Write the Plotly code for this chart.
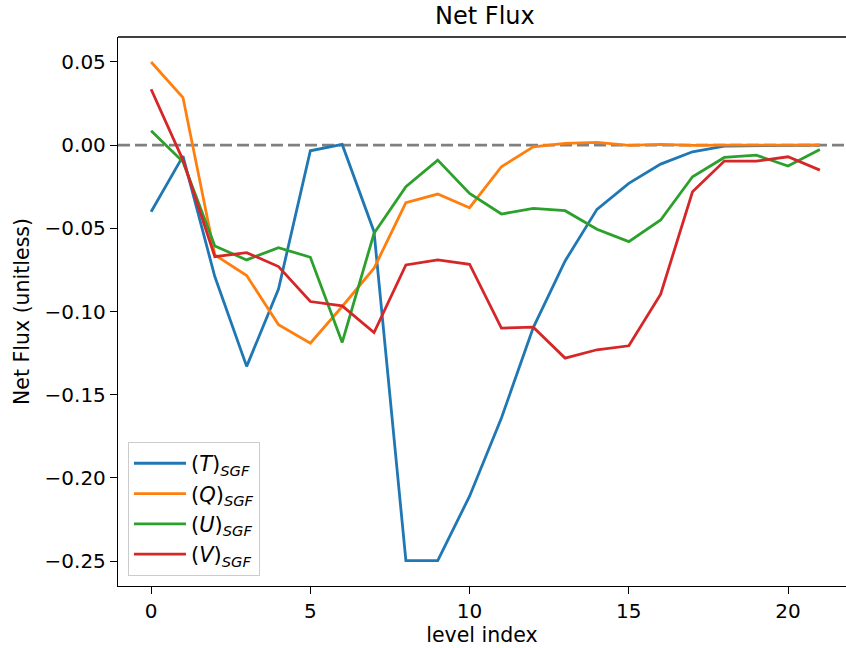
import plotly.graph_objects as go

level = list(range(22))
T_sgf = [-0.040, -0.0066, -0.079, -0.133, -0.0865, -0.0034, 0.0004, -0.052, -0.2497, -0.2497,
         -0.211, -0.164, -0.1097, -0.0696, -0.0386, -0.023, -0.0114, -0.004, -0.0006, -0.0002,
         -0.0001, 0.0]
Q_sgf = [0.050, 0.0286, -0.066, -0.0784, -0.108, -0.119, -0.097, -0.074, -0.0346, -0.0294,
         -0.0376, -0.013, -0.001, 0.001, 0.0016, -0.0002, 0.0004, -0.0001, 0.0, 0.0, 0.0, 0.0]
U_sgf = [0.0086, -0.010, -0.0606, -0.069, -0.0616, -0.0674, -0.1186, -0.053, -0.025, -0.009,
         -0.029, -0.0414, -0.038, -0.0394, -0.0506, -0.058, -0.045, -0.019, -0.0074, -0.006,
         -0.0126, -0.0026]
V_sgf = [0.0336, -0.009, -0.067, -0.0646, -0.073, -0.094, -0.0966, -0.1127, -0.072, -0.069,
         -0.0716, -0.110, -0.1094, -0.128, -0.123, -0.1206, -0.0896, -0.028, -0.0096, -0.0096,
         -0.007, -0.015]

series = [
    ("(<i>T</i>)<sub><i>SGF</i></sub>", T_sgf, "#1f77b4"),
    ("(<i>Q</i>)<sub><i>SGF</i></sub>", Q_sgf, "#ff7f0e"),
    ("(<i>U</i>)<sub><i>SGF</i></sub>", U_sgf, "#2ca02c"),
    ("(<i>V</i>)<sub><i>SGF</i></sub>", V_sgf, "#d62728"),
]

x_ticks = [0, 5, 10, 15, 20]
y_ticks = [0.05, 0.0, -0.05, -0.10, -0.15, -0.20, -0.25]
y_ticklabels = ["0.05", "0.00", "\u22120.05", "\u22120.10", "\u22120.15", "\u22120.20", "\u22120.25"]

fig = go.Figure()
for name, vals, color in series:
    fig.add_trace(go.Scatter(x=level, y=vals, mode="lines", name=name,
                             line=dict(color=color, width=2.8)))

fig.add_shape(type="line", xref="paper", x0=0, x1=1, yref="y", y0=0, y1=0,
              line=dict(color="#808080", width=2.6, dash="12px,5px"), layer="below")
fig.add_shape(type="line", xref="paper", x0=0, x1=1, yref="paper", y0=1, y1=1,
              line=dict(color="black", width=1.3))

font_family = "DejaVu Sans"
fig.update_layout(
    width=846, height=648,
    margin=dict(l=118, r=0, t=37, b=62),
    plot_bgcolor="white", paper_bgcolor="white",
    font=dict(family=font_family, size=20, color="black"),
    title=dict(text="Net Flux", x=0.504, xref="paper", xanchor="center",
               y=1 - 16 / 648, yref="container", yanchor="middle",
               font=dict(size=24, family=font_family, color="black")),
    xaxis=dict(range=[-1.04, 21.82], tickmode="array", tickvals=x_ticks,
               ticktext=[str(v) for v in x_ticks],
               showgrid=False, zeroline=False, showline=True, linecolor="black", linewidth=1.3,
               ticks="outside", ticklen=7, tickwidth=1.3, tickcolor="black",
               tickfont=dict(size=20),
               title=dict(text="level index", font=dict(size=20.5), standoff=3)),
    yaxis=dict(range=[-0.265, 0.065], tickmode="array", tickvals=y_ticks, ticktext=y_ticklabels,
               showgrid=False, zeroline=False, showline=True, linecolor="black", linewidth=1.3,
               ticks="outside", ticklen=7, tickwidth=1.3, tickcolor="black",
               tickfont=dict(size=20),
               title=dict(text="Net Flux (unitless)", font=dict(size=20.5), standoff=9)),
    legend=dict(x=0.0137, y=0.018, xanchor="left", yanchor="bottom",
                bgcolor="rgba(255,255,255,0.8)", bordercolor="#cccccc", borderwidth=1,
                font=dict(size=21), tracegroupgap=0, itemwidth=52),
    showlegend=True,
)

fig.write_html("out.html")
